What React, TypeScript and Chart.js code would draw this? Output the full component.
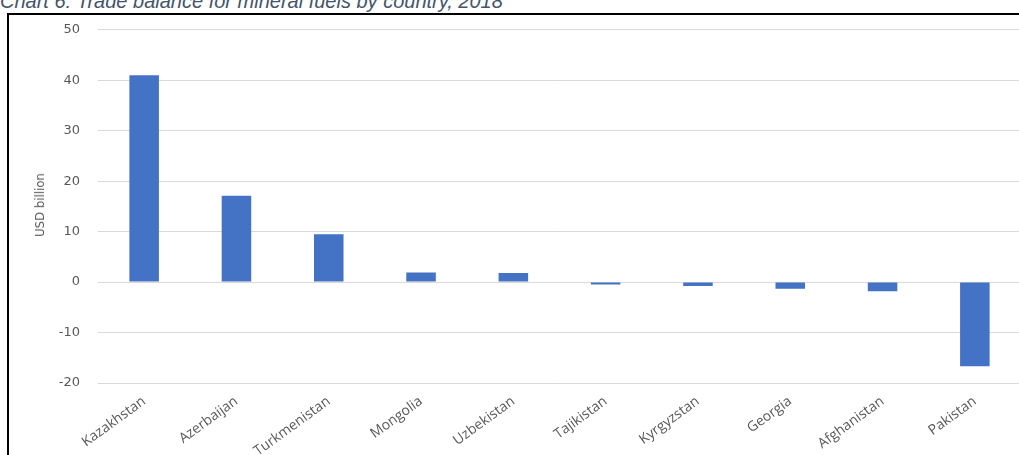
import React, { useEffect, useRef } from "react";
import { Chart, registerables } from "chart.js";

Chart.register(...registerables);

const categories = [
  "Kazakhstan",
  "Azerbaijan",
  "Turkmenistan",
  "Mongolia",
  "Uzbekistan",
  "Tajikistan",
  "Kyrgyzstan",
  "Georgia",
  "Afghanistan",
  "Pakistan",
];
const balance = [41.0, 17.1, 9.5, 1.9, 1.8, -0.5, -0.8, -1.3, -1.8, -16.7];
const yTicks = [50, 40, 30, 20, 10, 0, -10, -20];
const titleText = "Chart 6: Trade balance for mineral fuels by country, 2018";
const yAxisTitle = "USD billion";

export default function App() {
  const ref = useRef<HTMLCanvasElement | null>(null);

  useEffect(() => {
    if (!ref.current) return;
    const chart = new Chart(ref.current, {
      type: "bar",
      data: {
        labels: categories,
        datasets: [
          {
            data: balance,
            backgroundColor: "#4472C4",
            borderWidth: 0,
            categoryPercentage: 1,
            barPercentage: 0.32,
          },
        ],
      },
      options: {
        animation: false,
        responsive: false,
        maintainAspectRatio: false,
        layout: { padding: { top: 0, right: 0, left: 0, bottom: 0 } },
        plugins: {
          legend: { display: false },
          tooltip: { enabled: false },
          title: { display: false },
        },
        scales: {
          x: {
            grid: { display: false },
            border: { display: false },
            ticks: {
              color: "#595959",
              font: { family: "'Open Sans', sans-serif", size: 14 },
              minRotation: 36,
              maxRotation: 36,
              padding: 2,
              autoSkip: false,
            },
            afterFit: (scale: any) => {
              scale.height = 72;
            },
          },
          y: {
            min: -20,
            max: 50,
            afterBuildTicks: (scale: any) => {
              scale.ticks = yTicks.map((v) => ({ value: v }));
            },
            grid: { color: "#D9D9D9", lineWidth: 1, drawTicks: false },
            border: { display: false },
            ticks: {
              color: "#595959",
              font: { family: "'DejaVu Sans', sans-serif", size: 13 },
              padding: 18,
            },
            afterFit: (scale: any) => {
              scale.width = 88;
            },
          },
        },
      },
    });
    return () => chart.destroy();
  }, []);

  return (
    <div
      style={{
        position: "fixed",
        left: 0,
        top: 0,
        width: 1019,
        height: 455,
        overflow: "hidden",
        background: "#fff",
      }}
    >
      <div
        style={{
          position: "absolute",
          left: 0,
          top: -11,
          fontFamily: "'Liberation Sans', Arial, sans-serif",
          fontStyle: "italic",
          fontSize: 20,
          color: "#44546A",
          whiteSpace: "nowrap",
          lineHeight: "24px",
        }}
      >
        {titleText}
      </div>
      <div
        style={{
          position: "absolute",
          left: 7,
          top: 13,
          width: 1030,
          height: 460,
          borderLeft: "2px solid #000",
          borderTop: "2px solid #000",
        }}
      />
      <canvas
        ref={ref}
        width={1011}
        height={451}
        style={{ position: "absolute", left: 10, top: 4, width: 1011, height: 451 }}
      />
      <div
        style={{
          position: "absolute",
          left: 40,
          top: 205,
          transform: "translate(-50%, -50%) rotate(-90deg)",
          fontFamily: "'Liberation Sans Narrow', 'DejaVu Sans', sans-serif",
          fontStretch: "condensed",
          fontSize: 13,
          color: "#595959",
          whiteSpace: "nowrap",
          lineHeight: "16px",
        }}
      >
        {yAxisTitle}
      </div>
    </div>
  );
}
